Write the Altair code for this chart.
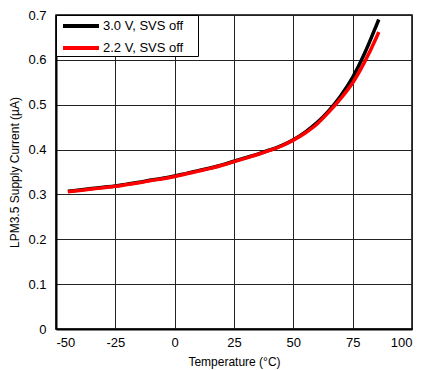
import altair as alt
import pandas as pd

temps = [-45, -40, -35, -30, -25, -20, -15, -10, -5, 0, 5, 10, 15, 20, 25, 30, 35, 40,
         45, 50, 55, 60, 65, 70, 75, 80, 85, 86]
i_30v = [0.307, 0.310, 0.313, 0.316, 0.319, 0.323, 0.327, 0.332, 0.336, 0.341, 0.347,
         0.353, 0.359, 0.366, 0.374, 0.382, 0.390, 0.399, 0.409, 0.422, 0.439, 0.460,
         0.487, 0.520, 0.561, 0.614, 0.677, 0.690]
i_22v = [0.306, 0.309, 0.312, 0.315, 0.318, 0.322, 0.326, 0.331, 0.335, 0.340, 0.346,
         0.352, 0.358, 0.365, 0.373, 0.381, 0.389, 0.398, 0.408, 0.421, 0.437, 0.457,
         0.484, 0.514, 0.549, 0.595, 0.650, 0.662]
series = ["3.0 V, SVS off", "2.2 V, SVS off"]
colors = ["#000000", "#ff0000"]
x_ticks = [-50, -25, 0, 25, 50, 75, 100]
y_ticks = [0, 0.1, 0.2, 0.3, 0.4, 0.5, 0.6, 0.7]

df = pd.concat([
    pd.DataFrame({"T": temps, "I": i_30v, "s": series[0]}),
    pd.DataFrame({"T": temps, "I": i_22v, "s": series[1]}),
])

FONT = "Liberation Sans"

x = alt.X("T:Q", scale=alt.Scale(domain=[-50, 100], nice=False),
          axis=alt.Axis(values=x_ticks, title="Temperature (°C)", ticks=False,
                        labelPadding=7, titlePadding=7, format="d",
                        labelExpr="replace(datum.label, '\u2212', '-')"))
y = alt.Y("I:Q", scale=alt.Scale(domain=[0, 0.7], nice=False),
          axis=alt.Axis(values=y_ticks, title="LPM3.5 Supply Current (µA)", ticks=False,
                        labelPadding=10, titlePadding=6, format=".1~f"))
color = alt.Color("s:N", scale=alt.Scale(domain=series, range=colors),
                  legend=alt.Legend(title=" ", titleOrient="right", titlePadding=15,
                                    orient="top-left", offset=0, padding=0,
                                    symbolType="M-2,0L2,0", symbolSize=324,
                                    symbolOffset=14, symbolStrokeWidth=4,
                                    labelFontSize=13, labelOffset=11, rowPadding=3,
                                    strokeColor="#000000", fillColor="#ffffff",
                                    labelFont=FONT, labelColor="#000000"))

base = alt.Chart(df).mark_line(strokeWidth=3.5, interpolate="monotone").encode(
    x=x, y=y, color=color)

chart = alt.layer(
    base.transform_filter(alt.datum.s == series[0]),
    base.transform_filter(alt.datum.s == series[1]),
).properties(
    width=356, height=314,
    autosize=alt.AutoSizeParams(type="none"),
    padding={"left": 48, "top": 7, "right": 10, "bottom": 40},
).configure_view(
    stroke="#000000", strokeWidth=1.5
).configure_axis(
    labelFont=FONT, titleFont=FONT, labelFontSize=13, titleFontSize=12,
    labelColor="#000000", titleColor="#000000", titleFontWeight="normal",
    gridColor="#222222", gridWidth=1, gridOpacity=1,
    domainColor="#000000", domainWidth=2,
)

chart.save("out.html", embed_options={"renderer": "svg", "actions": False})
